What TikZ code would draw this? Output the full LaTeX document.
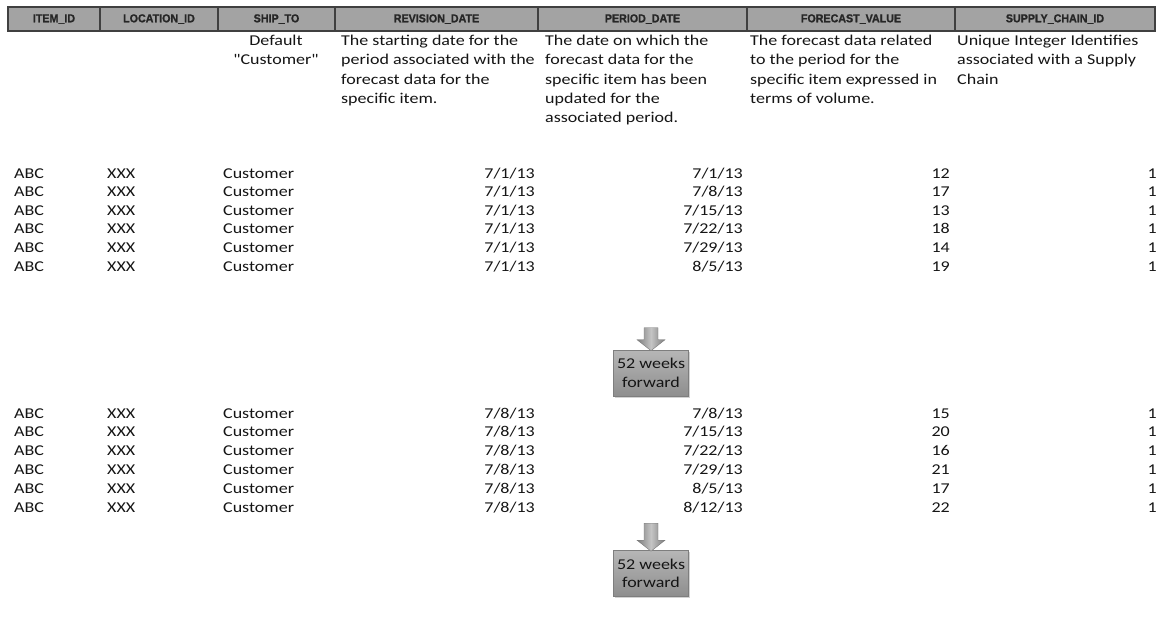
\documentclass[tikz,border=0pt]{standalone}
\usepackage{fontspec}
\newfontfamily\bodyfont{Carlito}[FakeStretch=1.2]
\newfontfamily\hdrfont{Liberation Sans}[FakeStretch=0.93, BoldFeatures={FakeBold=1.2}]
\usetikzlibrary{calc,shadows}

\definecolor{hdrfill}{HTML}{A3A3A3}
\definecolor{hdrline}{HTML}{404040}
\definecolor{hdrtext}{HTML}{262626}
\definecolor{inktext}{HTML}{151515}
\definecolor{boxtop}{HTML}{B6B6B6}
\definecolor{boxbottom}{HTML}{8E8E8E}
\definecolor{boxedge}{HTML}{7E7E7E}
\definecolor{arrowedge}{HTML}{7A7A7A}
\definecolor{arrowside}{HTML}{7C7C7C}
\definecolor{arrowmid}{HTML}{C4C4C4}

\tikzset{
  body/.style={font=\bodyfont\fontsize{15}{18.6}\selectfont, text=inktext, inner sep=0pt},
  lcell/.style={body, anchor=base west},
  rcell/.style={body, anchor=base east},
  desc/.style={body, font=\bodyfont\fontsize{15}{19.2}\selectfont, anchor=north west, align=left},
  hdrcell/.style={draw=hdrline, line width=1.3pt, fill=hdrfill, minimum height=24pt,
    inner sep=0pt, font=\hdrfont\bfseries\fontsize{11.5}{12}\selectfont, text=hdrtext},
  stepbox/.style={body, align=center, minimum width=75pt, minimum height=46pt,
    top color=boxtop, bottom color=boxbottom, draw=boxedge, line width=0.6pt,
    drop shadow={opacity=0.35, shadow xshift=1.2pt, shadow yshift=-1.6pt}},
  arrowfill/.style={left color=arrowside, right color=arrowside, middle color=arrowmid,
    draw=arrowedge, line width=0.4pt},
}

\begin{document}
\begin{tikzpicture}[x=1pt, y=-1pt]
\useasboundingbox[fill=white] (0,0) rectangle (1161,635);

% column headings
\foreach \l/\r/\t [count=\i] in {8/100/ITEM\_ID, 100/218/LOCATION\_ID, 218/335/SHIP\_TO,
    335/538/REVISION\_DATE, 538/747/PERIOD\_DATE, 747/955/FORECAST\_VALUE,
    955/1155/SUPPLY\_CHAIN\_ID}
  \node[hdrcell, minimum width={\r-\l}] (h\i) at ({(\l+\r)/2}, 19) {\t};

% column descriptions
\node[desc, anchor=north, align=center] (d3) at (276, 35) {Default\\"Customer"};
\node[desc] (d4) at (341, 35) {The starting date for the\\period associated with the\\forecast data for the\\specific item.};
\node[desc] (d5) at (545, 35) {The date on which the\\forecast data for the\\specific item has been\\updated for the\\associated period.};
\node[desc] (d6) at (750, 35) {The forecast data related\\to the period for the\\specific item expressed in\\terms of volume.};
\node[desc] (d7) at (957, 35) {Unique Integer Identifies\\associated with a Supply\\Chain};

% first revision block: period date (month/day/year) and forecast value
\foreach \m/\d/\yy/\f [count=\i] in {7/1/13/12, 7/8/13/17, 7/15/13/13, 7/22/13/18, 7/29/13/14, 8/5/13/19} {
  \pgfmathsetmacro{\yb}{178 + (\i-1)*18.6}
  \node[lcell] (a\i item) at (14, \yb) {ABC};
  \node[lcell] (a\i loc)  at (107, \yb) {XXX};
  \node[lcell] (a\i ship) at (223, \yb) {Customer};
  \node[rcell] (a\i rev)  at (535, \yb) {7/1/13};
  \node[rcell] (a\i per)  at (743, \yb) {\m/\d/\yy};
  \node[rcell] (a\i val)  at (950, \yb) {\f};
  \node[rcell] (a\i sc)   at (1157, \yb) {1};
}

% second revision block
\foreach \m/\d/\yy/\f [count=\i] in {7/8/13/15, 7/15/13/20, 7/22/13/16, 7/29/13/21, 8/5/13/17, 8/12/13/22} {
  \pgfmathsetmacro{\yb}{418 + (\i-1)*18.8}
  \node[lcell] (b\i item) at (14, \yb) {ABC};
  \node[lcell] (b\i loc)  at (107, \yb) {XXX};
  \node[lcell] (b\i ship) at (223, \yb) {Customer};
  \node[rcell] (b\i rev)  at (535, \yb) {7/8/13};
  \node[rcell] (b\i per)  at (743, \yb) {\m/\d/\yy};
  \node[rcell] (b\i val)  at (950, \yb) {\f};
  \node[rcell] (b\i sc)   at (1157, \yb) {1};
}

% roll-forward steps
\node[stepbox] (s1) at (651, 373) {52 weeks\\forward};
\node[stepbox] (s2) at (651, 573.5) {52 weeks\\forward};

\foreach \s/\len in {s1/22, s2/27} {
  \coordinate (\s tip) at (\s.north);
  \shade[arrowfill] ($(\s tip)+(-7,-\len)$) -- ($(\s tip)+(7,-\len)$) -- ($(\s tip)+(7,-10)$)
    -- ($(\s tip)+(14,-10)$) -- ($(\s tip)+(0,1)$) -- ($(\s tip)+(-14,-10)$)
    -- ($(\s tip)+(-7,-10)$) -- cycle;
}
\end{tikzpicture}
\end{document}
